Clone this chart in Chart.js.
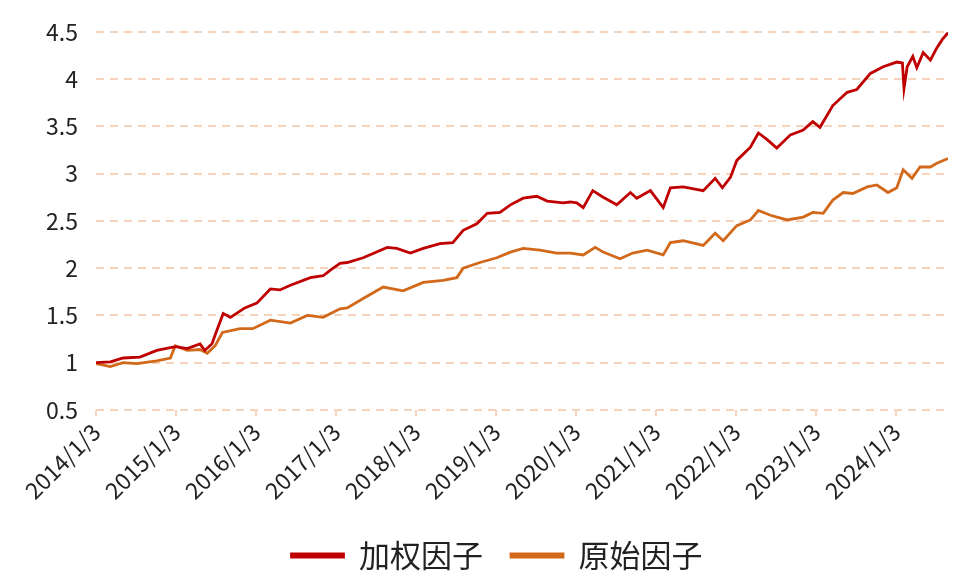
<!DOCTYPE html>
<html>
<head>
<meta charset="utf-8">
<script src="https://cdn.jsdelivr.net/npm/chart.js@4"></script>
<style>
  html, body { margin: 0; padding: 0; background: #fff; }
  #wrap { width: 969px; height: 585px; }
</style>
</head>
<body>
<div id="wrap"><canvas id="myChart"></canvas></div>
<script>
// x = decimal year
let weightedX = [2014.00, 2014.18, 2014.34, 2014.55, 2014.76, 2014.93, 2015.00, 2015.14, 2015.30, 2015.36,
    2015.45, 2015.51, 2015.59, 2015.68, 2015.86, 2016.01, 2016.18, 2016.30, 2016.43, 2016.68,
    2016.84, 2016.93, 2017.05, 2017.14, 2017.34, 2017.64, 2017.76, 2017.93, 2018.09, 2018.30,
    2018.46, 2018.59, 2018.76, 2018.89, 2019.05, 2019.18, 2019.34, 2019.51, 2019.64, 2019.84,
    2019.93, 2020.01, 2020.09, 2020.21, 2020.34, 2020.51, 2020.68, 2020.76, 2020.93, 2021.09,
    2021.18, 2021.34, 2021.59, 2021.74, 2021.83, 2021.93, 2022.01, 2022.18, 2022.28, 2022.39,
    2022.51, 2022.68, 2022.84, 2022.96, 2023.05, 2023.21, 2023.39, 2023.51, 2023.68, 2023.84,
    2024.01, 2024.08, 2024.10, 2024.14, 2024.21, 2024.26, 2024.34, 2024.43, 2024.51, 2024.58, 2024.65]
let weightedY = [1.00, 1.01, 1.05, 1.06, 1.13, 1.16, 1.17, 1.15, 1.20, 1.13,
    1.20, 1.34, 1.52, 1.48, 1.58, 1.63, 1.78, 1.77, 1.82, 1.90,
    1.92, 1.98, 2.05, 2.06, 2.11, 2.22, 2.21, 2.16, 2.21, 2.26,
    2.27, 2.40, 2.47, 2.58, 2.59, 2.67, 2.74, 2.76, 2.71, 2.69,
    2.70, 2.69, 2.64, 2.82, 2.75, 2.67, 2.80, 2.74, 2.82, 2.64,
    2.85, 2.86, 2.82, 2.95, 2.85, 2.96, 3.14, 3.28, 3.43, 3.36,
    3.27, 3.41, 3.46, 3.55, 3.49, 3.72, 3.86, 3.89, 4.06, 4.13,
    4.18, 4.17, 3.90, 4.13, 4.24, 4.12, 4.28, 4.20, 4.33, 4.42, 4.49]

let rawX = [2014.00, 2014.18, 2014.34, 2014.51, 2014.76, 2014.93, 2014.99, 2015.14, 2015.30, 2015.39,
    2015.49, 2015.58, 2015.80, 2015.96, 2016.18, 2016.43, 2016.64, 2016.84, 2017.05, 2017.14,
    2017.34, 2017.59, 2017.84, 2018.09, 2018.34, 2018.51, 2018.59, 2018.80, 2019.01, 2019.18,
    2019.34, 2019.55, 2019.76, 2019.93, 2020.09, 2020.24, 2020.34, 2020.55, 2020.71, 2020.89,
    2021.09, 2021.18, 2021.34, 2021.59, 2021.74, 2021.84, 2022.01, 2022.18, 2022.28, 2022.43,
    2022.64, 2022.84, 2022.96, 2023.09, 2023.21, 2023.34, 2023.46, 2023.64, 2023.76, 2023.90,
    2024.01, 2024.09, 2024.20, 2024.30, 2024.43, 2024.51, 2024.65]
let rawY = [0.99, 0.96, 1.00, 0.99, 1.02, 1.05, 1.18, 1.13, 1.14, 1.10,
    1.18, 1.32, 1.36, 1.36, 1.45, 1.42, 1.50, 1.48, 1.57, 1.58,
    1.68, 1.80, 1.76, 1.85, 1.87, 1.90, 2.00, 2.06, 2.11, 2.17,
    2.21, 2.19, 2.16, 2.16, 2.14, 2.22, 2.17, 2.10, 2.16, 2.19,
    2.14, 2.27, 2.29, 2.24, 2.37, 2.29, 2.45, 2.51, 2.61, 2.56,
    2.51, 2.54, 2.59, 2.58, 2.72, 2.80, 2.79, 2.86, 2.88, 2.80,
    2.85, 3.04, 2.95, 3.07, 3.07, 3.11, 3.16]

let tickYears = [2014, 2015, 2016, 2017, 2018, 2019, 2020, 2021, 2022, 2023, 2024]
let tickLabels = ['2014/1/3', '2015/1/3', '2016/1/3', '2017/1/3', '2018/1/3', '2019/1/3',
    '2020/1/3', '2021/1/3', '2022/1/3', '2023/1/3', '2024/1/3']

const gridColor = '#F8D3BC'
const font = '"Noto Sans CJK SC", "Noto Sans", sans-serif'

let data = {
    datasets: [{
        label: '加权因子',
        data: weightedX.map((x, i) => ({x: x, y: weightedY[i]})),
        borderColor: '#C00000',
        backgroundColor: '#C00000',
        borderWidth: 2.8,
        pointRadius: 0,
        tension: 0
    }, {
        label: '原始因子',
        data: rawX.map((x, i) => ({x: x, y: rawY[i]})),
        borderColor: '#D2691A',
        backgroundColor: '#D2691A',
        borderWidth: 2.8,
        pointRadius: 0,
        tension: 0
    }]
}

let config = {
    type: 'line',
    data: data,
    options: {
        responsive: true,
        maintainAspectRatio: false,
        animation: false,
        // left padding keeps the legend centred like the original; y width makes up the rest
        layout: { padding: { left: 46, right: 21, top: 22, bottom: 4 } },
        plugins: {
            tooltip: { enabled: false },
            legend: {
                position: 'bottom',
                labels: {
                    boxWidth: 52,
                    boxHeight: 3,
                    padding: 28,
                    color: '#222',
                    font: { family: font, size: 31 }
                }
            }
        },
        scales: {
            x: {
                type: 'linear',
                min: 2014,
                max: 2024.65,
                afterBuildTicks: s => { s.ticks = tickYears.map(v => ({value: v})) },
                afterFit: s => { s.height = 102 },
                ticks: {
                    minRotation: 45,
                    maxRotation: 45,
                    color: '#222',
                    padding: 2,
                    font: { family: font, size: 23 },
                    callback: v => tickLabels[tickYears.indexOf(v)]
                },
                grid: {
                    drawOnChartArea: false,
                    drawTicks: true,
                    tickLength: 6,
                    color: gridColor,
                    lineWidth: 2
                },
                border: { display: false }
            },
            y: {
                min: 0.5,
                max: 4.5,
                afterFit: s => { s.width = 50 },
                ticks: {
                    stepSize: 0.5,
                    color: '#222',
                    padding: 18,
                    font: { family: font, size: 23 },
                    callback: v => String(v)
                },
                grid: {
                    drawTicks: false,
                    color: gridColor,
                    lineWidth: 2,
                    borderDash: [8, 6]
                },
                border: { display: true, color: 'rgba(0,0,0,0)', width: 0, dash: [8, 6] }
            }
        }
    }
}

let myChart = new Chart(document.getElementById('myChart'), config)
</script>
</body>
</html>
